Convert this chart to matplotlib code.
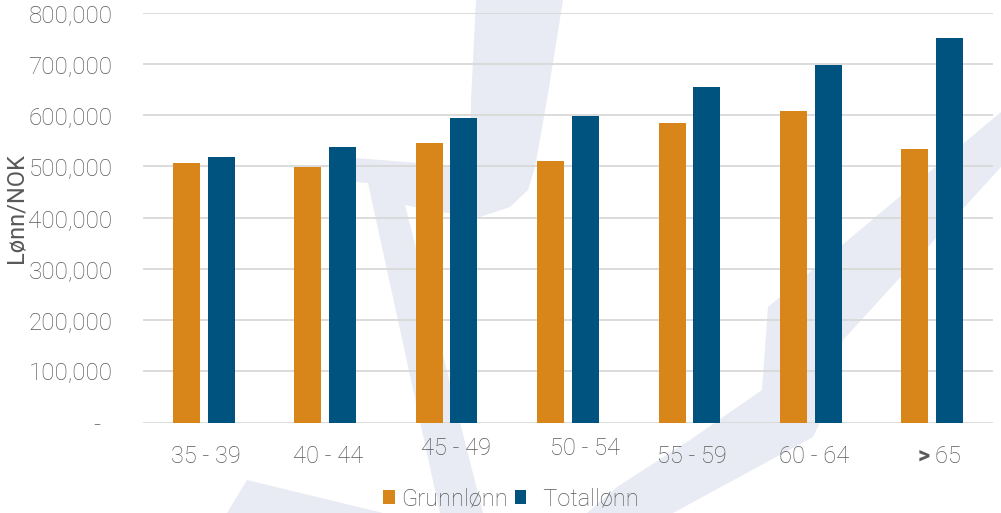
import matplotlib
matplotlib.use("Agg")
import matplotlib.pyplot as plt
import matplotlib.transforms as mtransforms
from matplotlib.patches import Polygon
from matplotlib.ticker import FuncFormatter, MultipleLocator
import numpy as np

# ---- data ----
categories = ["35 - 39", "40 - 44", "45 - 49", "50 - 54", "55 - 59", "60 - 64", "> 65"]
grunnlonn = [507000, 498000, 546000, 511000, 585000, 609000, 534000]
totallonn = [519000, 538000, 595000, 599000, 655000, 697000, 751000]

# ---- style ----
ORANGE = "#d8861a"
BLUE = "#00527f"
TEXT = "#595959"
GRID = "#d9d9d9"
WATERMARK = "#e8ebf3"
FONT = "Roboto"

plt.rcParams["font.family"] = [FONT, "DejaVu Sans"]
plt.rcParams["font.weight"] = "light"
plt.rcParams["mathtext.fontset"] = "custom"
plt.rcParams["mathtext.bf"] = "Roboto:bold"
plt.rcParams["mathtext.rm"] = "Roboto:light"

W, H = 1001, 513
fig = plt.figure(figsize=(W / 100, H / 100), dpi=100)
fig.patch.set_facecolor("white")

# ---- background watermark (decorative logo shapes, pixel coords) ----
shapes = [
    [(476, 0), (563, 0), (547, 100), (535, 167), (528, 190), (510, 207), (480, 217),
     (440, 212), (405, 205), (483, 513), (440, 513), (368, 183), (355, 182),
     (355, 158), (470, 167), (471, 100)],
    [(227, 513), (247, 480), (383, 513)],
    [(587, 513), (617, 487), (690, 440), (762, 390), (768, 307), (1001, 112),
     (1001, 167), (843, 340), (822, 418), (813, 437), (673, 513)],
]
for pts in shapes:
    fig.patches.append(Polygon([(x / W, 1 - y / H) for x, y in pts], closed=True,
                               transform=fig.transFigure, facecolor=WATERMARK,
                               edgecolor="none", zorder=-5))

ax = fig.add_axes([143 / W, 1 - 422.7 / H, 850 / W, 410 / H])
ax.set_zorder(1)
ax.set_facecolor("none")

x = np.arange(len(categories))
bw = 0.2225
off = 0.143
ax.bar(x - off, grunnlonn, width=bw, color=ORANGE, label="Grunnlønn", zorder=3)
ax.bar(x + off, totallonn, width=bw, color=BLUE, label="  Totallønn", zorder=3)

ax.set_xlim(-0.5, len(categories) - 0.5)
ax.set_ylim(0, 800000)
ax.yaxis.set_major_locator(MultipleLocator(100000))
ax.yaxis.set_major_formatter(FuncFormatter(lambda v, p: "-  " if v == 0 else f"{int(v):,}"))
ax.grid(axis="y", color=GRID, linewidth=1.3, zorder=1)
ax.set_axisbelow(True)
for s in ax.spines.values():
    s.set_visible(False)
ax.tick_params(axis="both", length=0, colors=TEXT, labelsize=17)
ax.tick_params(axis="y", pad=22, labelsize=17.5)
ax.tick_params(axis="x", pad=16)

labels = [r"$\mathbf{>}$65" if c.startswith(">") else c for c in categories]
ax.set_xticks(x, labels)
dxs = [2.5, 3.2, 9.2, 16.5, 2.9, 3.1, 4.7]
dys = [0, 0, 8.4, 8.4, 0, 0, 0]
for lab, dx, dy in zip(ax.get_xticklabels(), dxs, dys):
    lab.set_transform(lab.get_transform() + mtransforms.ScaledTranslation(dx / 100, dy / 100, fig.dpi_scale_trans))

ax.set_ylabel("Lønn/NOK", fontsize=17, color=TEXT)
ax.yaxis.set_label_coords(-0.1353, 0.524)

leg = fig.legend(loc="center", bbox_to_anchor=(511 / W, 1 - 499 / H), ncol=2, frameon=False,
                 fontsize=17, handlelength=0.5, handleheight=0.5, handletextpad=0.25,
                 columnspacing=0.3, borderpad=0, labelcolor=TEXT)
leg.set_zorder(2)

fig.savefig("out.png", dpi=100)
